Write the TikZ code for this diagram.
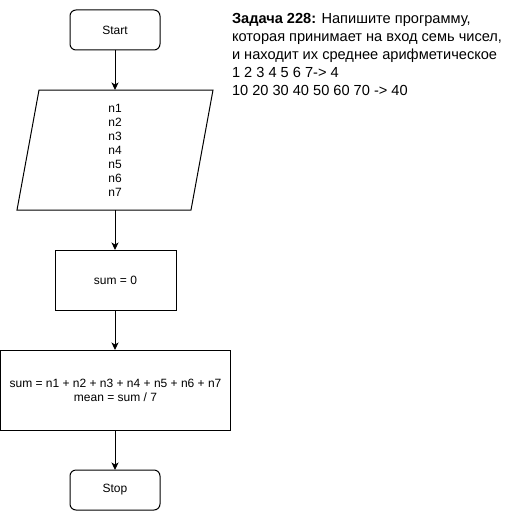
\documentclass[tikz,border=0pt]{standalone}
\usepackage{fontspec}
\setmainfont{Liberation Sans}
\usetikzlibrary{arrows.meta}
\begin{document}
\begin{tikzpicture}[x=1pt,y=-1pt,
  every node/.style={inner sep=0pt, outer sep=0pt},
  nodefont/.style={font=\fontsize{12}{14}\selectfont},
  term/.style={draw, rounded corners=6pt, minimum width=90pt, minimum height=40pt, nodefont, line width=1pt},
  proc/.style={draw, align=center, nodefont, line width=1pt},
  conn/.style={-{Stealth[length=7.5pt,width=7pt,inset=2pt]}, line width=1pt},
  task/.style={anchor=base west, font=\fontsize{14.6}{18}\selectfont}
]
\useasboundingbox (0,0) rectangle (521,511);

\node[term] (start) at (115,30) {Start};

\node[minimum width=196pt, minimum height=120pt, align=center, nodefont] (inp) at (115,150)
  {n1\\n2\\n3\\n4\\n5\\n6\\n7};
\draw[line width=1pt, line join=miter] (39,90) -- (213,90) -- (191,210) -- (17,210) -- cycle;

\node[proc, minimum width=121pt, minimum height=60pt] (init) at (115.5,280) {sum = 0};
\node[proc, minimum width=230pt, minimum height=80pt] (calc) at (115.5,390)
  {sum = n1 + n2 + n3 + n4 + n5 + n6 + n7\\mean = sum / 7};
\node[term] (stop) at (115,490) {Stop};

\draw[conn] (start.south) -- (inp.north);
\draw[conn] (inp.south) -- (init.north -| inp.south);
\draw[conn] (init.south -| inp.south) -- (calc.north -| inp.south);
\draw[conn] (calc.south -| inp.south) -- (stop.north);

\node[task] (t1) at (232,23.3) {\textbf{Задача 228:} Напишите программу,};
\node[task] (t2) at (232,41.5) {которая принимает на вход семь чисел,};
\node[task] (t3) at (232,59.6) {и находит их среднее арифметическое};
\node[task] (t4) at (232,77.7) {1 2 3 4 5 6 7-> 4};
\node[task] (t5) at (232,95.8) {10 20 30 40 50 60 70 -> 40};
\end{tikzpicture}
\end{document}
